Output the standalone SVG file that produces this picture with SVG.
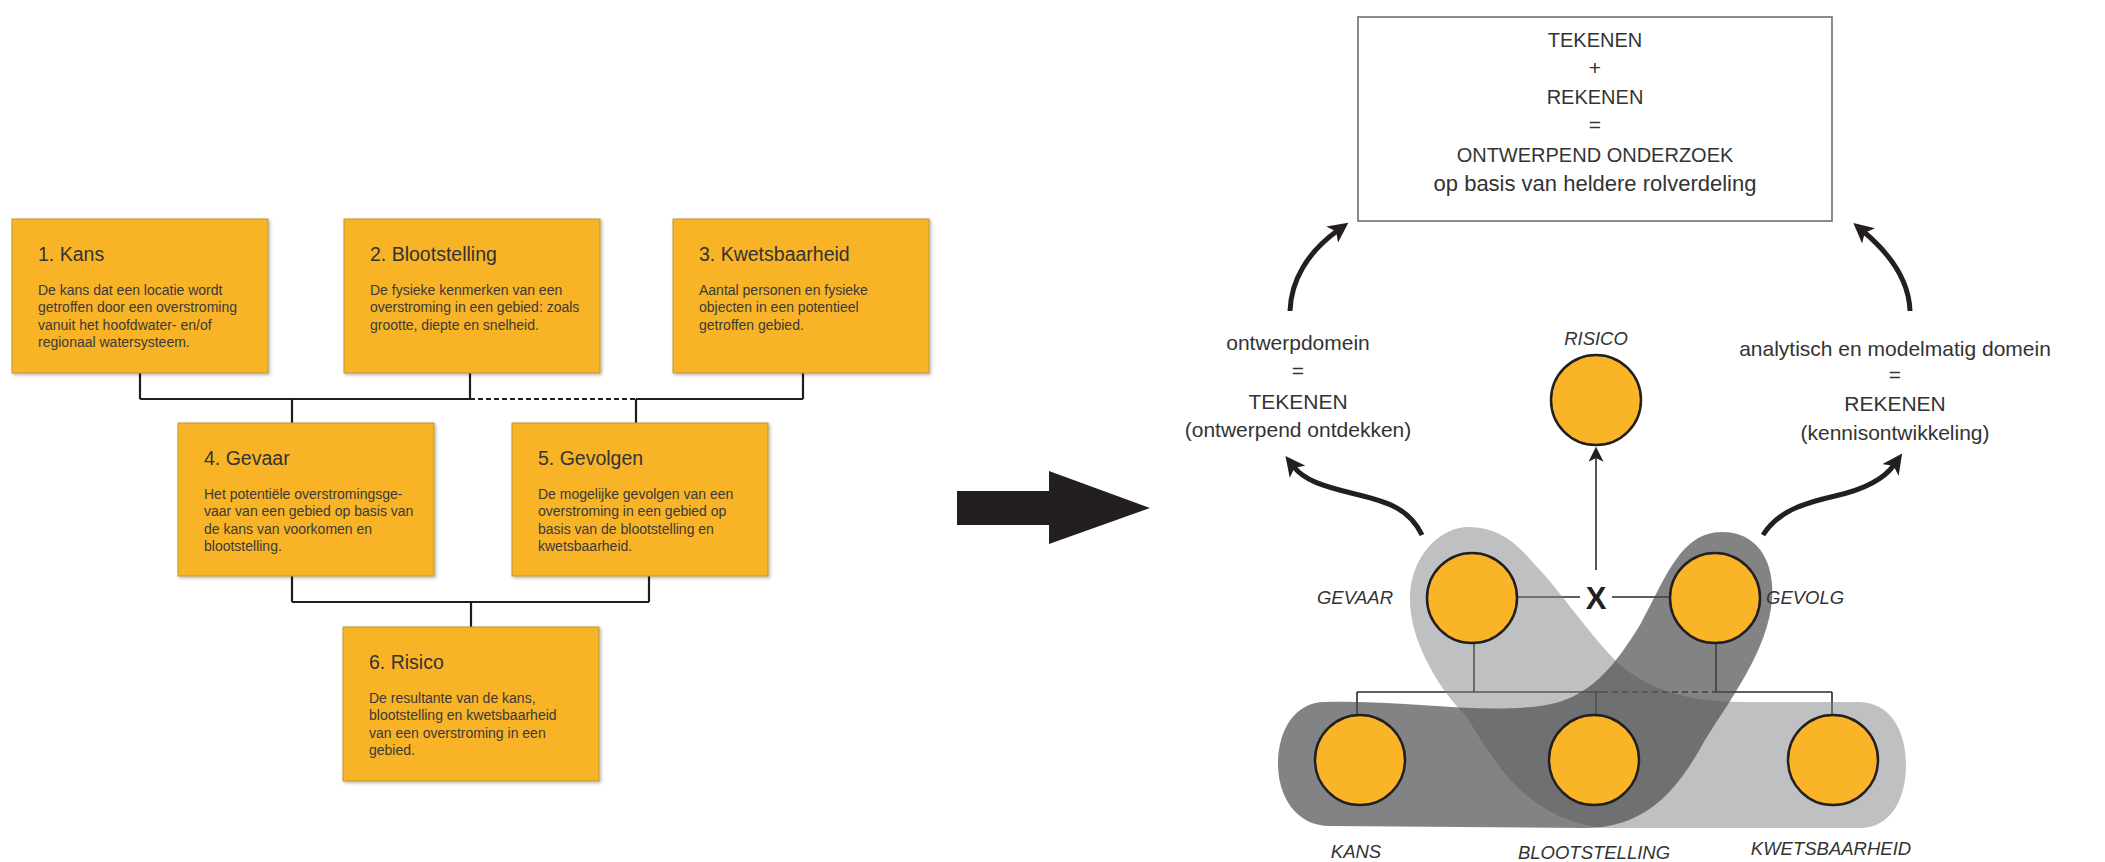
<svg xmlns="http://www.w3.org/2000/svg" width="2105" height="862" viewBox="0 0 2105 862">
  <style>
    .box { fill: #F8B325; stroke: #B99A34; stroke-width: 1; }
    .ttl { font-family: "Liberation Sans", Arial, sans-serif; font-size: 19.5px; fill: #333; }
    .body { font-family: "Liberation Sans", Arial, sans-serif; font-size: 14px; fill: #3a3a3a; }
    .wire { fill: none; stroke: #1e1e1e; stroke-width: 2.2; }
    .wire-dash { fill: none; stroke: #1e1e1e; stroke-width: 2.2; stroke-dasharray: 5 3; }
    .thin { fill: none; stroke: #2a2a2a; stroke-width: 1.6; }
    .thin-dash { fill: none; stroke: #2a2a2a; stroke-width: 1.6; stroke-dasharray: 6 4; }
    .curve { fill: none; stroke: #231f20; stroke-width: 5; }
    .dot { fill: #F9B428; stroke: #231f20; stroke-width: 2.5; }
    .lbl { font-family: "Liberation Sans", Arial, sans-serif; font-size: 21px; fill: #333; text-anchor: middle; }
    .caps { font-size: 20px; }
    .wide { font-size: 22px; }
    .ital { font-family: "Liberation Sans", Arial, sans-serif; font-size: 18.5px; font-style: italic; fill: #333; }
  </style>
  <defs>
    <filter id="shade" x="-10%" y="-10%" width="125%" height="125%">
      <feDropShadow dx="1.5" dy="1.5" stdDeviation="1.5" flood-color="#000" flood-opacity="0.3"/>
    </filter>
    <marker id="headThick" viewBox="0 0 20 20" refX="6" refY="10" markerWidth="20" markerHeight="20" markerUnits="userSpaceOnUse" orient="auto">
      <path d="M0,0 L20,10 L0,20 L5,10 Z" fill="#231f20"/>
    </marker>
    <marker id="headThin" viewBox="0 0 16 16" refX="5" refY="8" markerWidth="15" markerHeight="15" markerUnits="userSpaceOnUse" orient="auto">
      <path d="M0,0 L16,8 L0,16 L4,8 Z" fill="#231f20"/>
    </marker>
  </defs>

  <!-- ===== Left: risk build-up tree ===== -->
  <g id="tree-connectors">
    <path class="wire" d="M140,373 V399 M470,373 V399 M803,373 V399 M140,399 H470 M636,399 H803"/>
    <path class="wire-dash" d="M470,399 H636"/>
    <path class="wire" d="M292,399 V423 M636,399 V423"/>
    <path class="wire" d="M292,575 V602 M649,576 V602 M292,602 H649 M471,602 V627"/>
  </g>

  <g id="box-kans">
    <rect class="box" x="12" y="219" width="256" height="154" filter="url(#shade)"/>
    <text class="ttl" x="38" y="261">1. Kans</text>
    <text class="body" x="38" y="295">De kans dat een locatie wordt</text>
    <text class="body" x="38" y="312.3">getroffen door een overstroming</text>
    <text class="body" x="38" y="329.6">vanuit het hoofdwater- en/of</text>
    <text class="body" x="38" y="346.9">regionaal watersysteem.</text>
  </g>

  <g id="box-blootstelling">
    <rect class="box" x="344" y="219" width="256" height="154" filter="url(#shade)"/>
    <text class="ttl" x="370" y="261">2. Blootstelling</text>
    <text class="body" x="370" y="295">De fysieke kenmerken van een</text>
    <text class="body" x="370" y="312.3">overstroming in een gebied: zoals</text>
    <text class="body" x="370" y="329.6">grootte, diepte en snelheid.</text>
  </g>

  <g id="box-kwetsbaarheid">
    <rect class="box" x="673" y="219" width="256" height="154" filter="url(#shade)"/>
    <text class="ttl" x="699" y="261">3. Kwetsbaarheid</text>
    <text class="body" x="699" y="295">Aantal personen en fysieke</text>
    <text class="body" x="699" y="312.3">objecten in een potentieel</text>
    <text class="body" x="699" y="329.6">getroffen gebied.</text>
  </g>

  <g id="box-gevaar">
    <rect class="box" x="178" y="423" width="256" height="153" filter="url(#shade)"/>
    <text class="ttl" x="204" y="465">4. Gevaar</text>
    <text class="body" x="204" y="499">Het potentiële overstromingsge-</text>
    <text class="body" x="204" y="516.3">vaar van een gebied op basis van</text>
    <text class="body" x="204" y="533.6">de kans van voorkomen en</text>
    <text class="body" x="204" y="550.9">blootstelling.</text>
  </g>

  <g id="box-gevolgen">
    <rect class="box" x="512" y="423" width="256" height="153" filter="url(#shade)"/>
    <text class="ttl" x="538" y="465">5. Gevolgen</text>
    <text class="body" x="538" y="499">De mogelijke gevolgen van een</text>
    <text class="body" x="538" y="516.3">overstroming in een gebied op</text>
    <text class="body" x="538" y="533.6">basis van de blootstelling en</text>
    <text class="body" x="538" y="550.9">kwetsbaarheid.</text>
  </g>

  <g id="box-risico">
    <rect class="box" x="343" y="627" width="256" height="154" filter="url(#shade)"/>
    <text class="ttl" x="369" y="669">6. Risico</text>
    <text class="body" x="369" y="703">De resultante van de kans,</text>
    <text class="body" x="369" y="720.3">blootstelling en kwetsbaarheid</text>
    <text class="body" x="369" y="737.6">van een overstroming in een</text>
    <text class="body" x="369" y="754.9">gebied.</text>
  </g>

  <!-- block arrow between the two halves -->
  <g id="transition-arrow">
    <polygon points="957,491 1049,491 1049,471 1150,508 1049,544 1049,525 957,525" fill="#231f20"/>
  </g>

  <!-- ===== Right: design research scheme ===== -->
  <g id="summary">
    <rect x="1358" y="17" width="474" height="204" fill="#fff" stroke="#6d6e70" stroke-width="1.6"/>
    <text class="lbl caps" x="1595" y="47">TEKENEN</text>
    <text class="lbl" x="1595" y="75">+</text>
    <text class="lbl caps" x="1595" y="104">REKENEN</text>
    <text class="lbl" x="1595" y="132">=</text>
    <text class="lbl caps" x="1595" y="162">ONTWERPEND ONDERZOEK</text>
    <text class="lbl wide" x="1595" y="191">op basis van heldere rolverdeling</text>
  </g>

  <g id="design-domain">
    <text class="lbl" x="1298" y="350">ontwerpdomein</text>
    <text class="lbl" x="1298" y="378">=</text>
    <text class="lbl" x="1298" y="409">TEKENEN</text>
    <text class="lbl" x="1298" y="437">(ontwerpend ontdekken)</text>
  </g>

  <g id="analytic-domain">
    <text class="lbl" x="1895" y="356">analytisch en modelmatig domein</text>
    <text class="lbl" x="1895" y="382">=</text>
    <text class="lbl" x="1895" y="411">REKENEN</text>
    <text class="lbl" x="1895" y="440">(kennisontwikkeling)</text>
  </g>

  <g id="scheme-connectors">
    <!-- tree lines beneath the groupings -->
    <path class="thin" d="M1474,643 V692 M1716,643 V692 M1357,692 H1602 M1716,692 H1832 M1357,692 V715 M1596,692 V715 M1832,692 V715"/>
    <path class="thin-dash" d="M1602,692 H1716"/>
    <path class="thin" d="M1517,597 H1580 M1612,597 H1671"/>
    <!-- product to risk -->
    <path class="thin" d="M1596,570 V457" marker-end="url(#headThin)"/>
    <!-- domains feeding the summary -->
    <path class="curve" d="M1290,311 C1291,280 1308,252 1337,231" marker-end="url(#headThick)"/>
    <path class="curve" d="M1910,311 C1909,280 1890,254 1864,232" marker-end="url(#headThick)"/>
    <path class="curve" d="M1422,535 C1410,510 1390,502 1355,494 C1322,486 1304,480 1294,467" marker-end="url(#headThick)"/>
    <path class="curve" d="M1763,535 C1778,512 1800,504 1835,496 C1866,489 1884,479 1894,465" marker-end="url(#headThick)"/>
  </g>

  <g id="groupings">
    <path id="group-gevaar" d="M1469,527 C1440,527 1412,555 1410,595 C1408,640 1440,690 1465,715 C1495,760 1520,815 1600,828 L1860,828 C1890,828 1906,800 1906,765 C1906,730 1890,703 1860,702 L1740,702 C1690,702 1650,690 1620,665 C1585,630 1560,590 1535,565 C1515,540 1495,527 1469,527 Z" fill="#808285" fill-opacity="0.5"/>
    <path id="group-gevolg" d="M1325,702 C1400,700 1480,714 1540,706 C1590,700 1615,665 1640,625 C1665,580 1680,532 1722,532 C1760,532 1775,565 1772,600 C1768,650 1730,700 1705,740 C1680,785 1650,828 1585,828 L1330,826 C1295,826 1278,795 1278,764 C1278,730 1295,702 1325,702 Z" fill="#4a4b4d" fill-opacity="0.69"/>
  </g>

  <g id="node-risico">
    <circle class="dot" cx="1596" cy="400" r="45"/>
    <text class="ital" x="1596" y="345" text-anchor="middle">RISICO</text>
  </g>
  <g id="node-x">
    <text x="1596" y="609" text-anchor="middle" font-family="Liberation Sans, Arial, sans-serif" font-size="31" font-weight="bold" fill="#231f20">X</text>
  </g>
  <g id="node-gevaar">
    <circle class="dot" cx="1472" cy="598" r="45"/>
    <text class="ital" x="1393" y="604" text-anchor="end">GEVAAR</text>
  </g>
  <g id="node-gevolg">
    <circle class="dot" cx="1715" cy="598" r="45"/>
    <text class="ital" x="1766" y="604">GEVOLG</text>
  </g>
  <g id="node-kans">
    <circle class="dot" cx="1360" cy="760" r="45"/>
    <text class="ital" x="1356" y="858" text-anchor="middle">KANS</text>
  </g>
  <g id="node-blootstelling">
    <circle class="dot" cx="1594" cy="760" r="45"/>
    <text class="ital" x="1594" y="859" text-anchor="middle">BLOOTSTELLING</text>
  </g>
  <g id="node-kwetsbaarheid">
    <circle class="dot" cx="1833" cy="760" r="45"/>
    <text class="ital" x="1831" y="855" text-anchor="middle">KWETSBAARHEID</text>
  </g>
</svg>
